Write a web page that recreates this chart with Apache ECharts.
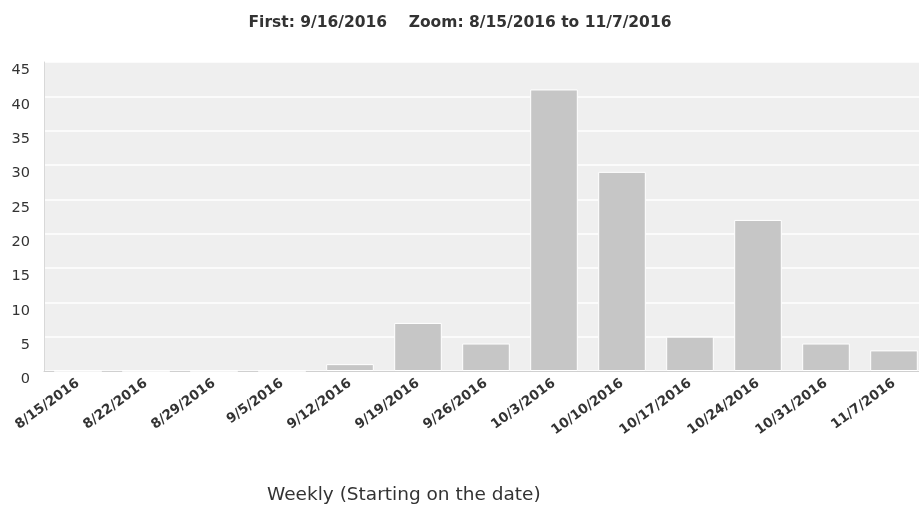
<!DOCTYPE html>
<html><head><meta charset="utf-8">
<script src="https://cdn.jsdelivr.net/npm/echarts@6/dist/echarts.min.js"></script>
<style>html,body{margin:0;padding:0;background:#fff}#c{width:919px;height:512px}</style>
</head><body><div id="c"></div>
<script>
const categories = ['8/15/2016','8/22/2016','8/29/2016','9/5/2016','9/12/2016','9/19/2016','9/26/2016','10/3/2016','10/10/2016','10/17/2016','10/24/2016','10/31/2016','11/7/2016'];
const counts = [0,0,0,0,1,7,4,41,29,5,22,4,3];
const titleText = 'First: 9/16/2016    Zoom: 8/15/2016 to 11/7/2016';
const xAxisTitle = 'Weekly (Starting on the date)';

const chart = echarts.init(document.getElementById('c'));
chart.setOption({
  animation: false,
  title: {
    text: titleText, left: 455, top: 10, textAlign: 'center',
    textStyle: {fontFamily: 'DejaVu Sans', fontSize: 15.5, fontWeight: 'bold', color: '#333'}
  },
  graphic: [{
    type: 'text', left: 267, top: 486,
    style: {text: xAxisTitle, font: '18.5px "DejaVu Sans"', fill: '#333'}
  }],
  grid: {left: 44, width: 884, top: 62, bottom: 141, show: true, backgroundColor: '#efefef', borderWidth: 0, outerBoundsMode: 'none', containLabel: false},
  xAxis: {
    type: 'category', data: categories,
    axisLine: {show: true, lineStyle: {color: '#d0d0d0', width: 1}},
    axisTick: {show: false},
    axisLabel: {rotate: 36, interval: 0, margin: 11, color: '#333', fontFamily: 'DejaVu Sans', fontSize: 13.5, fontWeight: 'bold'}
  },
  yAxis: {
    type: 'value', min: 0, max: 45, interval: 5,
    axisLine: {show: true, lineStyle: {color: '#d8d8d8'}},
    axisTick: {show: false},
    splitLine: {lineStyle: {color: '#ffffff', width: 1.5}},
    axisLabel: {color: '#333', fontFamily: 'DejaVu Sans', fontSize: 14.5, margin: 14, verticalAlign: 'top', padding: [1, 0, 0, 0]}
  },
  series: [{
    type: 'bar', data: counts, barCategoryGap: '30%',
    itemStyle: {color: '#c6c6c6', borderColor: '#ffffff', borderWidth: 1}
  }]
});
</script></body></html>
